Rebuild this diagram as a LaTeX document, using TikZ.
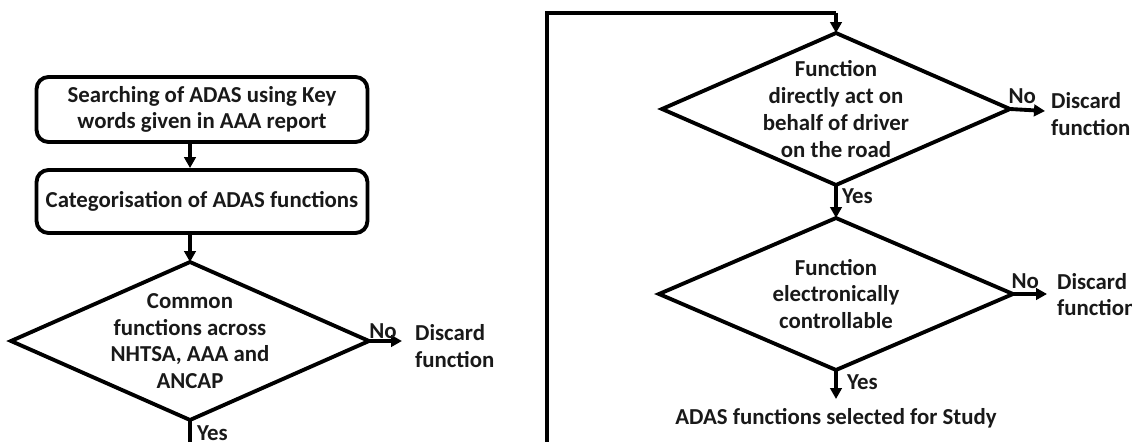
\documentclass[tikz,border=0pt]{standalone}
\usepackage{fontspec}
\setmainfont{Carlito}
\usetikzlibrary{shapes.geometric,arrows.meta}
\begin{document}
\begin{tikzpicture}[x=0.02cm,y=-0.02cm,
  every node/.style={font=\bfseries\fontsize{13}{15}\selectfont, text=black!90},
  line/.style={line width=2.2pt, line join=miter},
  arr/.style={line, -{Triangle[length=2.2mm,width=2.3mm]}},
  procbox/.style={draw, line width=2.2pt, rounded corners=2.4mm, minimum width=6.62cm, inner sep=0pt, align=center},
  decision/.style={draw, diamond, line width=2.2pt, inner sep=0pt, outer sep=0pt},
  dtext/.style={align=center, font=\bfseries\fontsize{13}{15.2}\selectfont},
  lbl/.style={inner sep=1pt, align=left},
  yn/.style={inner sep=1pt}
]
\useasboundingbox (0,0) rectangle (1132,442);
\clip (0,0) rectangle (1132,442);

% left column
\node[procbox, minimum height=1.3cm] (b1) at (202,109.5) {Searching of ADAS using Key\\words given in AAA report};
\node[procbox, minimum height=1.26cm] (b2) at (202,201.5) {Categorisation of ADAS functions};
\node[decision, minimum width=7.16cm, minimum height=3.16cm,
      label={[dtext]center:Common\\functions across\\NHTSA, AAA and\\ANCAP}] (d1) at (190,341) {};
\node[lbl, anchor=west] (x1) at (413,346) {Discard\\function};
\coordinate (e1) at (402,341);

% right column
\node[decision, minimum width=6.96cm, minimum height=3.04cm,
      label={[dtext]center:Function\\directly act on\\behalf of driver\\on the road}] (d2) at (836,109) {};
\node[lbl, anchor=west] (x2) at (1049,114) {Discard\\function};
\coordinate (e2) at (1045,111);

\node[decision, minimum width=7.08cm, minimum height=3.04cm,
      label={[dtext]center:Function\\electronically\\controllable}] (d3) at (836,294) {};
\node[lbl, anchor=west] (x3) at (1055,294.5) {Discard\\function};
\coordinate (e3) at (1047,294);

\node (fin) at (836,418) {ADAS functions selected for Study};
\coordinate (y3) at (836,399);

% loop from left Yes to right top
\coordinate (c1) at (190,470);
\coordinate (c2) at (547,470);
\coordinate (c3) at (547,13);
\coordinate (c4) at (836,13);

% connectors
\draw[arr] (b1.south -| 190,0) -- (b2.north -| 190,0);
\draw[arr] (b2.south -| 190,0) -- (d1.north);
\draw[arr] (d1.east) -- (e1);
\node[yn, anchor=south west] at ([xshift=-1pt]d1.east) {No};
\draw[line] (d1.south) -- (c1) -- (c2) -- (c3) -- (c4);
\draw[arr] (c4) -- (d2.north);
\node[yn, anchor=west] at (195,433) {Yes};

\draw[arr] (d2.east) -- (e2);
\node[yn, anchor=south west] at ([xshift=-2pt,yshift=2pt]d2.east) {No};
\draw[arr] (d2.south) -- (d3.north);
\node[yn, anchor=west] at (840,196) {Yes};
\draw[arr] (d3.east) -- (e3);
\node[yn, anchor=south west] at ([xshift=-2pt,yshift=2pt]d3.east) {No};
\draw[arr] (d3.south) -- (y3);
\node[yn, anchor=west] at (845,382) {Yes};
\end{tikzpicture}
\end{document}
